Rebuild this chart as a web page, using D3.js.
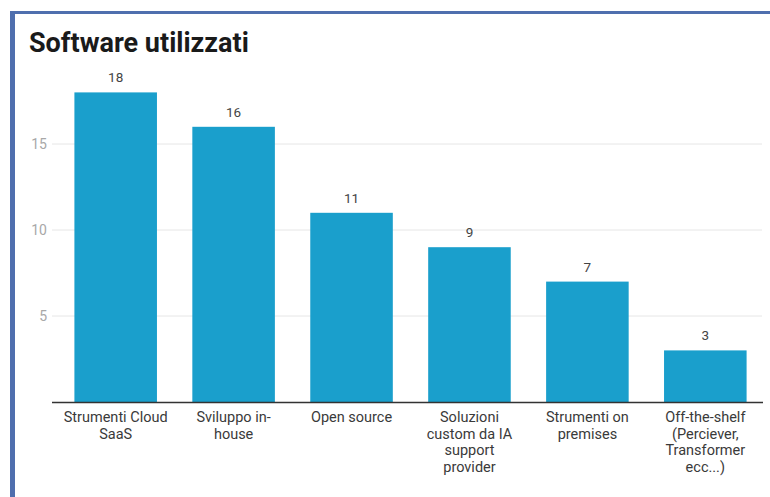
<!DOCTYPE html>
<html>
<head>
<meta charset="utf-8">
<script src="https://cdn.jsdelivr.net/npm/d3@7"></script>
<style>
  body { margin: 0; background: #fff; }
  svg { display: block; font-family: Roboto, "Noto Sans", sans-serif; }
</style>
</head>
<body>
<div id="chart"></div>
<script>
const categories = [
  "Strumenti Cloud SaaS",
  "Sviluppo in-house",
  "Open source",
  "Soluzioni custom da IA support provider",
  "Strumenti on premises",
  "Off-the-shelf (Perciever, Transformer ecc...)",
];
const categoryLines = [
  ["Strumenti Cloud", "SaaS"],
  ["Sviluppo in-", "house"],
  ["Open source"],
  ["Soluzioni", "custom da IA", "support", "provider"],
  ["Strumenti on", "premises"],
  ["Off-the-shelf", "(Perciever,", "Transformer", "ecc...)"],
];
const values = [18, 16, 11, 9, 7, 3];
const yTicks = [5, 10, 15];

const W = 770, H = 497;

const svg = d3
  .select("#chart")
  .append("svg")
  .attr("width", W)
  .attr("height", H);

// frame (blue border on top and left)
svg.append("rect")
  .attr("x", 10).attr("y", 11)
  .attr("width", W - 10).attr("height", 3)
  .attr("fill", "#4f6fae");
svg.append("rect")
  .attr("x", 10).attr("y", 11)
  .attr("width", 5).attr("height", H - 11)
  .attr("fill", "#4f6fae");

svg.append("text")
  .attr("x", 29)
  .attr("y", 52)
  .attr("font-size", 27)
  .attr("font-weight", "bold")
  .attr("fill", "#1a1a1a")
  .text("Software utilizzati");

var x = d3
  .scaleBand()
  .domain(categories)
  .range([52, 769])
  .paddingInner(0.3)
  .paddingOuter(0.19);

var y = d3.scaleLinear().domain([0, 20]).range([402, 58]);

// gridlines
svg.append("g")
  .selectAll("line")
  .data(yTicks)
  .enter()
  .append("line")
  .attr("x1", 52)
  .attr("x2", 762)
  .attr("y1", (d) => y(d))
  .attr("y2", (d) => y(d))
  .attr("stroke", "#e6e6e6")
  .attr("stroke-width", 1);

var yAxis = svg.append("g")
  .attr("transform", "translate(47,0)")
  .call(d3.axisLeft(y).tickValues(yTicks).tickSize(0).tickPadding(0));
yAxis.select(".domain").remove();
yAxis.selectAll("text")
  .attr("font-family", "Roboto, sans-serif")
  .attr("font-size", 14)
  .attr("fill", "#a8a8a8");

// bars
svg.append("g")
  .selectAll("rect")
  .data(values)
  .enter()
  .append("rect")
  .attr("x", (d, i) => x(categories[i]))
  .attr("y", (d) => y(d))
  .attr("width", x.bandwidth())
  .attr("height", (d) => y(0) - y(d))
  .attr("fill", "#1a9fcc");

// value labels
svg.append("g")
  .selectAll("text")
  .data(values)
  .enter()
  .append("text")
  .attr("x", (d, i) => x(categories[i]) + x.bandwidth() / 2)
  .attr("y", (d) => y(d) - 10)
  .attr("text-anchor", "middle")
  .attr("font-size", 13.5)
  .attr("fill", "#444")
  .text((d) => d);

// x axis baseline
svg.append("line")
  .attr("x1", 52)
  .attr("x2", 763)
  .attr("y1", y(0) + 0.5)
  .attr("y2", y(0) + 0.5)
  .attr("stroke", "#333")
  .attr("stroke-width", 1.5);

// category labels
var labels = svg.append("g")
  .selectAll("text")
  .data(categories)
  .enter()
  .append("text")
  .attr("text-anchor", "middle")
  .attr("font-size", 14.5)
  .attr("fill", "#3a3a3a")
  .attr("x", (d) => x(d) + x.bandwidth() / 2)
  .attr("y", 422);

labels
  .selectAll("tspan")
  .data((d, i) => categoryLines[i])
  .enter()
  .append("tspan")
  .attr("x", function () {
    return d3.select(this.parentNode).attr("x");
  })
  .attr("dy", (d, i) => (i === 0 ? 0 : 16.7))
  .text((d) => d);
</script>
</body>
</html>
